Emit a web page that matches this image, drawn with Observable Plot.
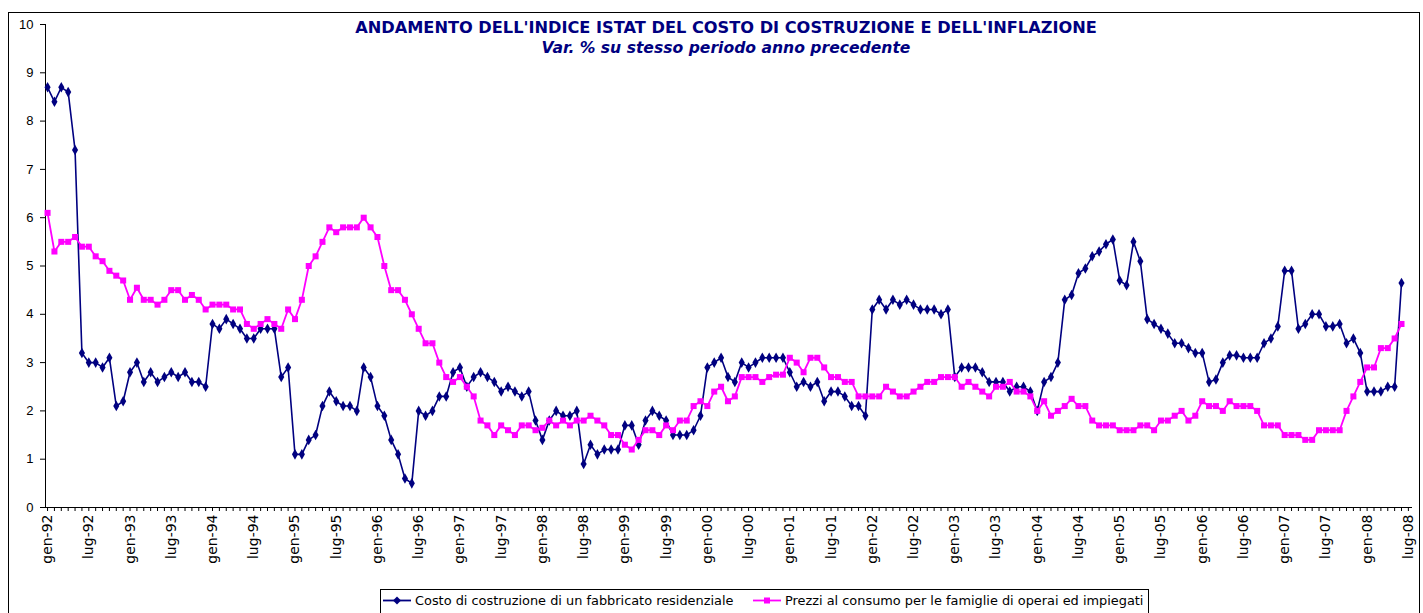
<!DOCTYPE html>
<html><head><meta charset="utf-8">
<script src="https://cdn.jsdelivr.net/npm/d3@7"></script>
<script src="https://cdn.jsdelivr.net/npm/@observablehq/plot@0.6"></script>
<style>
body{margin:0;background:#fff;}
#wrap{position:relative;width:1423px;height:613px;overflow:hidden;background:#fff;}
#frame{position:absolute;left:8px;top:12px;width:1412px;height:640px;border:1px solid #000;box-sizing:border-box;}
#chart{position:absolute;left:0;top:0;}
#title{position:absolute;top:18px;left:0;width:1452px;text-align:center;color:#000080;font:bold 16.2px "DejaVu Sans",sans-serif;}
#subtitle{position:absolute;top:39px;left:0;width:1452px;text-align:center;color:#000080;font:italic bold 15.6px "DejaVu Sans",sans-serif;}
#legend{position:absolute;left:380px;top:589px;width:769px;height:40px;border:1px solid #000;box-sizing:border-box;font:12.9px "DejaVu Sans",sans-serif;color:#000;white-space:nowrap;}
#legend .item{position:absolute;top:3px;display:flex;align-items:center;}
#legend svg{margin-right:4px;}
</style></head>
<body>
<div id="wrap">
  <div id="frame"></div>
  <div id="chart"></div>
  <div id="title">ANDAMENTO DELL'INDICE ISTAT DEL COSTO DI COSTRUZIONE E DELL'INFLAZIONE</div>
  <div id="subtitle">Var. % su stesso periodo anno precedente</div>
  <div id="legend"></div>
</div>
<script>
// Monthly values, gen-92 ... giu-08
const costo = [
  8.7, 8.4, 8.7, 8.6, 7.4, 3.2, 3.0, 3.0, 2.9, 3.1, 2.1, 2.2,
  2.8, 3.0, 2.6, 2.8, 2.6, 2.7, 2.8, 2.7, 2.8, 2.6, 2.6, 2.5,
  3.8, 3.7, 3.9, 3.8, 3.7, 3.5, 3.5, 3.7, 3.7, 3.7, 2.7, 2.9,
  1.1, 1.1, 1.4, 1.5, 2.1, 2.4, 2.2, 2.1, 2.1, 2.0, 2.9, 2.7,
  2.1, 1.9, 1.4, 1.1, 0.6, 0.5, 2.0, 1.9, 2.0, 2.3, 2.3, 2.8,
  2.9, 2.5, 2.7, 2.8, 2.7, 2.6, 2.4, 2.5, 2.4, 2.3, 2.4, 1.8,
  1.4, 1.8, 2.0, 1.9, 1.9, 2.0, 0.9, 1.3, 1.1, 1.2, 1.2, 1.2,
  1.7, 1.7, 1.3, 1.8, 2.0, 1.9, 1.8, 1.5, 1.5, 1.5, 1.6, 1.9,
  2.9, 3.0, 3.1, 2.7, 2.6, 3.0, 2.9, 3.0, 3.1, 3.1, 3.1, 3.1,
  2.8, 2.5, 2.6, 2.5, 2.6, 2.2, 2.4, 2.4, 2.3, 2.1, 2.1, 1.9,
  4.1, 4.3, 4.1, 4.3, 4.2, 4.3, 4.2, 4.1, 4.1, 4.1, 4.0, 4.1,
  2.7, 2.9, 2.9, 2.9, 2.8, 2.6, 2.6, 2.6, 2.4, 2.5, 2.5, 2.4,
  2.0, 2.6, 2.7, 3.0, 4.3, 4.4, 4.85, 4.95, 5.2, 5.3, 5.45, 5.55,
  4.7, 4.6, 5.5, 5.1, 3.9, 3.8, 3.7, 3.6, 3.4, 3.4, 3.3, 3.2,
  3.2, 2.6, 2.65, 3.0, 3.15, 3.15, 3.1, 3.1, 3.1, 3.4, 3.5, 3.75,
  4.9, 4.9, 3.7, 3.8, 4.0, 4.0, 3.75, 3.75, 3.8, 3.4, 3.5, 3.2,
  2.4, 2.4, 2.4, 2.5, 2.5, 4.65
];
const prezzi = [
  6.1, 5.3, 5.5, 5.5, 5.6, 5.4, 5.4, 5.2, 5.1, 4.9, 4.8, 4.7,
  4.3, 4.55, 4.3, 4.3, 4.2, 4.3, 4.5, 4.5, 4.3, 4.4, 4.3, 4.1,
  4.2, 4.2, 4.2, 4.1, 4.1, 3.8, 3.7, 3.8, 3.9, 3.8, 3.7, 4.1,
  3.9, 4.3, 5.0, 5.2, 5.5, 5.8, 5.7, 5.8, 5.8, 5.8, 6.0, 5.8,
  5.6, 5.0, 4.5, 4.5, 4.3, 4.0, 3.7, 3.4, 3.4, 3.0, 2.7, 2.6,
  2.7, 2.5, 2.3, 1.8, 1.7, 1.5, 1.7, 1.6, 1.5, 1.7, 1.7, 1.6,
  1.65, 1.8, 1.7, 1.8, 1.7, 1.8, 1.8, 1.9, 1.8, 1.7, 1.5, 1.5,
  1.3, 1.2, 1.4, 1.6, 1.6, 1.5, 1.7, 1.6, 1.8, 1.8, 2.1, 2.2,
  2.1, 2.4, 2.5, 2.2, 2.3, 2.7, 2.7, 2.7, 2.6, 2.7, 2.75, 2.75,
  3.1, 3.0, 2.8, 3.1, 3.1, 2.9, 2.7, 2.7, 2.6, 2.6, 2.3, 2.3,
  2.3, 2.3, 2.5, 2.4, 2.3, 2.3, 2.4, 2.5, 2.6, 2.6, 2.7, 2.7,
  2.7, 2.5, 2.6, 2.5, 2.4, 2.3, 2.5, 2.5, 2.6, 2.4, 2.4, 2.3,
  2.0, 2.2, 1.9, 2.0, 2.1, 2.25, 2.1, 2.1, 1.8, 1.7, 1.7, 1.7,
  1.6, 1.6, 1.6, 1.7, 1.7, 1.6, 1.8, 1.8, 1.9, 2.0, 1.8, 1.9,
  2.2, 2.1, 2.1, 2.0, 2.2, 2.1, 2.1, 2.1, 2.0, 1.7, 1.7, 1.7,
  1.5, 1.5, 1.5, 1.4, 1.4, 1.6, 1.6, 1.6, 1.6, 2.0, 2.3, 2.6,
  2.9, 2.9, 3.3, 3.3, 3.5, 3.8
];
const tickLabels = [
  "gen-92","lug-92","gen-93","lug-93","gen-94","lug-94","gen-95","lug-95",
  "gen-96","lug-96","gen-97","lug-97","gen-98","lug-98","gen-99","lug-99",
  "gen-00","lug-00","gen-01","lug-01","gen-02","lug-02","gen-03","lug-03",
  "gen-04","lug-04","gen-05","lug-05","gen-06","lug-06","gen-07","lug-07",
  "gen-08","lug-08"
];
const yTicks = [0,1,2,3,4,5,6,7,8,9,10];
const seriesNames = ["Costo di costruzione di un fabbricato residenziale",
                     "Prezzi al consumo per le famiglie di operai ed impiegati"];
const colors = ["#000080", "#FF00FF"];

const nCats = (tickLabels.length - 1) * 6 + 1; // categories gen-92 .. lug-08
const dataC = costo.map((v, i) => ({i, v}));
const dataP = prezzi.map((v, i) => ({i, v}));
const xMin = -0.3, xMax = nCats - 1 + 0.6;

const chart = Plot.plot({
  width: 1423, height: 590,
  marginLeft: 45, marginRight: 11, marginTop: 24, marginBottom: 83,
  style: {fontFamily: "Liberation Sans, Arial, sans-serif", fontSize: "13px", color: "#000", background: "transparent", overflow: "visible"},
  x: {type: "linear", domain: [xMin, xMax]},
  y: {domain: [0, 10]},
  marks: [
    Plot.axisY({ticks: yTicks, tickSize: 5, tickPadding: 7, label: null, fontSize: 13}),
    Plot.axisX({ticks: d3.range(nCats), tickSize: 4, tickFormat: () => "", label: null}),
    Plot.axisX({ticks: tickLabels.map((d, k) => k * 6), tickSize: 0, tickPadding: 7, tickRotate: -90,
                tickFormat: d => tickLabels[Math.round(d / 6)], label: null,
                fontSize: 14, fontFamily: "DejaVu Sans, sans-serif"}),
    Plot.ruleX([xMin], {y1: 0, y2: 10, stroke: "#000"}),
    Plot.ruleY([0], {stroke: "#000"}),
    Plot.line(dataC, {x: "i", y: "v", stroke: colors[0], strokeWidth: 1.6}),
    Plot.dot(dataC, {x: "i", y: "v", symbol: "diamond", r: 3.2, fill: colors[0], stroke: "none"}),
    Plot.line(dataP, {x: "i", y: "v", stroke: colors[1], strokeWidth: 1.8}),
    Plot.dot(dataP, {x: "i", y: "v", symbol: "square", r: 3.4, fill: colors[1], stroke: "none"})
  ]
});
document.getElementById("chart").appendChild(chart);

// Legend
const legend = document.getElementById("legend");
const lx = [2, 372];
seriesNames.forEach((name, k) => {
  const item = document.createElement("div");
  item.className = "item";
  item.style.left = lx[k] + "px";
  const sym = k === 0
    ? `<path d="M14,3.5 L18,7.5 L14,11.5 L10,7.5 Z" fill="${colors[0]}"/>`
    : `<rect x="11" y="4.5" width="6" height="6" fill="${colors[1]}"/>`;
  item.innerHTML = `<svg width="28" height="15"><line x1="0" y1="7.5" x2="28" y2="7.5" stroke="${colors[k]}" stroke-width="1.8"/>${sym}</svg><span>${name}</span>`;
  legend.appendChild(item);
});
</script>
</body></html>
